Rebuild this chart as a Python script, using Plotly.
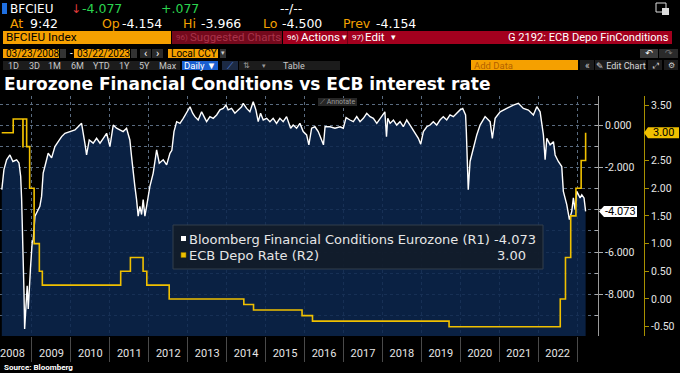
import plotly.graph_objects as go

W, H = 680, 373

# ---------------- data ----------------
bfci_dates = [
    "2008-03-24", "2008-04-13", "2008-05-08", "2008-06-08", "2008-07-06", "2008-08-10",
    "2008-09-01", "2008-09-17", "2008-09-26", "2008-10-06", "2008-10-11", "2008-10-18",
    "2008-10-24", "2008-11-05", "2008-11-17", "2008-11-27", "2008-12-06", "2008-12-19",
    "2009-01-03", "2009-01-13", "2009-01-29", "2009-02-14", "2009-03-01", "2009-03-16",
    "2009-04-01", "2009-04-16", "2009-05-02", "2009-06-02", "2009-07-04", "2009-08-04",
    "2009-09-04", "2009-10-06", "2009-11-06", "2009-12-23", "2010-02-08", "2010-03-10",
    "2010-04-11", "2010-05-12", "2010-05-28", "2010-06-22", "2010-07-29", "2010-08-30",
    "2010-10-01", "2010-11-01", "2010-12-02", "2011-01-02", "2011-02-02", "2011-03-05",
    "2011-04-05", "2011-05-06", "2011-06-07", "2011-07-08", "2011-07-24", "2011-08-08",
    "2011-08-24", "2011-09-09", "2011-09-24", "2011-10-10", "2011-10-26", "2011-11-10",
    "2011-11-26", "2011-12-12", "2012-01-12", "2012-02-12", "2012-03-15", "2012-04-09",
    "2012-05-16", "2012-06-17", "2012-07-18",
    "2012-08-05", "2012-08-25", "2012-09-19", "2012-10-20", "2012-11-20", "2012-12-21",
    "2013-01-22", "2013-02-16", "2013-03-09", "2013-04-09", "2013-05-11", "2013-06-11",
    "2013-06-27", "2013-07-28", "2013-08-28", "2013-09-29", "2013-10-30", "2013-11-30",
    "2013-12-25", "2014-01-15", "2014-02-16", "2014-03-19", "2014-04-19", "2014-05-21",
    "2014-06-05", "2014-07-07", "2014-08-07", "2014-09-07", "2014-10-02", "2014-10-24",
    "2014-11-15", "2014-12-10", "2015-01-11", "2015-02-11", "2015-03-13", "2015-04-14",
    "2015-05-15", "2015-06-15", "2015-07-17", "2015-08-24", "2015-09-17", "2015-10-19",
    "2015-11-19", "2015-12-20", "2016-01-21", "2016-02-11", "2016-03-08", "2016-04-08",
    "2016-05-09", "2016-06-27", "2016-07-12", "2016-08-27", "2016-10-13", "2016-11-29",
    "2016-12-30", "2017-01-25", "2017-03-03", "2017-04-03", "2017-05-05", "2017-06-05",
    "2017-07-06", "2017-08-07", "2017-09-07", "2017-10-08", "2017-11-09", "2017-12-10",
    "2018-01-24", "2018-02-08", "2018-02-20", "2018-03-14", "2018-04-14", "2018-05-15",
    "2018-06-15", "2018-07-16", "2018-08-17", "2018-09-17", "2018-10-18", "2018-11-12",
    "2018-12-04", "2018-12-26", "2019-01-20", "2019-02-21", "2019-03-24", "2019-04-23",
    "2019-05-25", "2019-06-25", "2019-07-26", "2019-08-27", "2019-09-27", "2019-10-28",
    "2019-11-29", "2019-12-30", "2020-01-24", "2020-02-20", "2020-02-27", "2020-03-05",
    "2020-03-16",
    "2020-04-02", "2020-05-03", "2020-06-04", "2020-07-05", "2020-08-21", "2020-10-07",
    "2020-10-28", "2020-11-23", "2021-01-09", "2021-03-12", "2021-05-13", "2021-06-29",
    "2021-08-15", "2021-10-01", "2021-11-17", "2021-12-19", "2022-01-19", "2022-02-19",
    "2022-03-07", "2022-03-23", "2022-04-23", "2022-05-24", "2022-06-09", "2022-07-09",
    "2022-08-10", "2022-08-25", "2022-09-26", "2022-10-21", "2022-11-12", "2022-11-27",
    "2022-12-13", "2022-12-29", "2023-01-29", "2023-02-14", "2023-03-07", "2023-03-22",
]
bfci_values = [
    -3.04, -2.09, -1.62, -1.39, -1.70, -1.62,
    -1.77, -2.41, -3.51, -5.08, -6.67, -7.91,
    -9.66, -8.24, -7.61, -8.71, -7.60, -6.67,
    -5.55, -5.40, -4.30, -4.13, -3.98, -3.83,
    -3.36, -2.25, -1.94, -1.31, -1.53, -0.99,
    -0.76, -0.52, -0.36, -0.28, -0.20, -0.05,
    0.11, -0.83, -1.39, -0.68, -0.83, -0.60,
    -0.83, -0.60, -0.36, -0.99, 0.03, -0.12,
    -0.20, -0.28, -0.12, -0.68, -1.47, -2.25,
    -2.88, -3.51, -4.30, -3.83, -4.22, -3.51,
    -4.30, -3.83, -2.88, -2.25, -1.15, -1.78,
    -1.62, -1.86, -1.31,
    -1.17, -0.28, 0.19, 0.11, 0.35, 0.59,
    0.90, 0.59, 0.43, 0.27, 0.66, 0.35,
    0.19, 0.43, 0.35, 0.51, 0.75, 0.82,
    0.98, 0.75, 0.82, 0.59, 0.75, 0.90,
    1.06, 0.82, 0.66, 1.14, 0.75, 0.19,
    0.59, 0.27, 0.35, 0.19, 0.35, 0.11,
    0.35, 0.19, 0.43, -0.12, 0.03, -0.12,
    0.11, -0.28, -0.44, -0.91, -0.12, -0.05,
    -0.28, -0.91, -0.05, -0.05, -0.12, -0.05,
    -0.12, 0.38, 0.27, 0.19, 0.43, 0.19,
    0.35, 0.59, 0.43, 0.35, 0.11, 0.35,
    0.66, -0.52, 0.35, 0.11, 0.27, 0.03,
    0.19, -0.05, 0.27, 0.03, -0.20, -0.44,
    -0.60, -0.88, -0.28, -0.05, 0.03, 0.19,
    0.03, 0.27, 0.43, 0.27, 0.51, 0.43,
    0.59, 0.75, 0.82, 0.51, -0.28, -1.70,
    -3.04,
    -1.70, -1.07, -0.44, 0.03, 0.43, 0.19,
    -0.60, 0.35, 0.66, 0.82, 0.98, 1.06,
    0.82, 0.74, 0.51, 0.90, 0.66, -0.44,
    -1.62, -0.60, -0.91, -0.76, -1.39, -1.70,
    -1.94, -3.12, -3.75, -4.46, -4.07, -3.43,
    -3.99, -3.12, -3.43, -3.28, -3.43, -4.073,
]

ecb_dates = [
    "2008-03-23", "2008-07-09", "2008-10-08", "2008-10-09", "2008-11-12", "2008-12-10",
    "2009-01-21", "2009-03-11", "2009-04-08", "2011-04-13", "2011-07-13", "2011-11-09",
    "2011-12-14", "2012-07-11", "2014-06-11", "2014-09-10", "2015-12-09", "2016-03-16",
    "2019-09-18", "2022-07-27", "2022-09-14", "2022-11-02", "2022-12-21", "2023-02-08",
    "2023-03-22",
]
ecb_rates = [
    3.00, 3.25, 2.75, 3.25, 2.75, 2.00,
    1.00, 0.50, 0.25, 0.50, 0.75, 0.50,
    0.25, 0.00, -0.10, -0.20, -0.30, -0.40,
    -0.50, 0.00, 0.75, 1.50, 2.00, 2.50,
    3.00,
]

# tick labels (the ones sitting under the last-value tags are hidden by the tags)
r1_tickvals = [0, -2, -4, -6, -8]
r1_ticktext = ["0.000", "-2.000", "", "-6.000", "-8.000"]
r2_tickvals = [3.5, 3.0, 2.5, 2.0, 1.5, 1.0, 0.5, 0.0, -0.5]
r2_ticktext = ["3.50", "", "2.50", "2.00", "1.50", "1.00", "0.50", "0.00", "-0.50"]

bfci_name = "Bloomberg Financial Conditions Eurozone (R1)"
ecb_name = "ECB Depo Rate (R2)"
bfci_last = bfci_values[-1]
ecb_last = ecb_rates[-1]

R1_RANGE = [-9.99, 1.41]
R2_RANGE = [-0.668, 3.664]
X_RANGE = ["2008-03-07", "2023-07-16"]

PLOT_TOP, PLOT_BOT, PLOT_RIGHT = 96, 336, 598

YELLOW = "#f0c000"
ORANGE = "#f5a000"
TXT = "#e6e6e6"
FONT = "Roboto"
DV = "DejaVu Sans"


def X(p):
    return p / W


def Y(p):
    return 1 - p / H


shapes = []
annotations = []


def rect(x0, y0, x1, y1, fill, line=None, lw=1):
    shapes.append(dict(type="rect", xref="paper", yref="paper",
                       x0=X(x0), x1=X(x1), y0=Y(y1), y1=Y(y0),
                       fillcolor=fill,
                       line=dict(color=line if line else fill, width=lw if line else 0),
                       layer="above"))


def txt(x, y, s, color=TXT, size=11, anchor="left", family=FONT, bold=False):
    annotations.append(dict(xref="paper", yref="paper", x=X(x), y=Y(y),
                            text=f"<b>{s}</b>" if bold else s, showarrow=False,
                            xanchor=anchor, yanchor="middle", borderpad=0,
                            font=dict(color=color, size=size, family=family)))


# ---------------- traces ----------------
fig = go.Figure()
fig.add_trace(go.Scatter(x=bfci_dates, y=[R1_RANGE[0] - 1] * len(bfci_dates),
                         mode="lines", line=dict(width=0), hoverinfo="skip",
                         showlegend=False))
fig.add_trace(go.Scatter(x=bfci_dates, y=bfci_values, mode="lines", name=bfci_name,
                         line=dict(color="white", width=1.4),
                         fill="tonexty", fillcolor="rgba(12,38,78,0.86)",
                         showlegend=False))
fig.add_trace(go.Scatter(x=ecb_dates, y=ecb_rates, mode="lines", name=ecb_name,
                         line=dict(color=YELLOW, width=1.6, shape="hv"),
                         yaxis="y2", showlegend=False))

# ---------------- header (terminal chrome) ----------------
# row 1
rect(2, 3, 7, 14, "#1f6fe0")
txt(9, 8.5, "BFCIEU", "white", 12, family=DV)
txt(70, 8.5, "↓", "#e03a3a", 12, family=DV)
txt(81, 8.5, "-4.077", "#2bd44f", 12.5, family=DV)
txt(160, 8.5, "+.077", "#2bd44f", 12.5, family=DV)
txt(279, 8.5, "--/--", "white", 12.5, family=DV)
rect(656, 3, 666, 12, "rgba(0,0,0,0)", "#dddddd", 1)
rect(662, 8, 669, 15, "#dddddd")
# row 2
txt(9, 23, "At", ORANGE, 12.5, family=DV)
txt(29, 23, "9:42", "white", 12.5, family=DV)
txt(101, 23, "Op", ORANGE, 12.5, family=DV)
txt(121, 23, "-4.154", "white", 12.5, family=DV)
txt(182, 23, "Hi", ORANGE, 12.5, family=DV)
txt(200, 23, "-3.966", "white", 12.5, family=DV)
txt(262, 23, "Lo", ORANGE, 12.5, family=DV)
txt(281, 23, "-4.500", "white", 12.5, family=DV)
txt(342, 23, "Prev", ORANGE, 12.5, family=DV)
txt(375, 23, "-4.154", "white", 12.5, family=DV)
# row 3
rect(3, 31, 171, 44, ORANGE)
txt(5, 37.5, "BFCIEU Index", "black", 11.8)
rect(172, 31, 282, 44, "#74091c")
txt(175, 37.5, "96)", "#a8334a", 8)
txt(189, 37.5, "Suggested Charts", "#a8334a", 11.5)
rect(283, 31, 672, 44, "#a3001e")
txt(286, 37.5, "96)", "white", 8)
txt(300, 37.5, "Actions", "white", 11.5)
txt(341, 37.5, "▾", "white", 9, family=DV)
rect(347, 31, 348, 44, "#700014")
txt(351, 37.5, "97)", "white", 8)
txt(364, 37.5, "Edit", "white", 11.5)
txt(390, 37.5, "▾", "white", 9, family=DV)
txt(670, 37.5, "G 2192: ECB Depo FinConditions", "white", 11.1, anchor="right")
# row 4
rect(3, 49, 59, 58, ORANGE)
txt(5, 53.5, "03/23/2008", "black", 10)
rect(60, 49, 66, 58, "#333333")
txt(69, 53.5, "-", "white", 10)
rect(74, 49, 130, 58, ORANGE)
txt(76, 53.5, "03/22/2023", "black", 10)
rect(131, 49, 137, 58, "#333333")
rect(140, 49, 151, 58, "#2a2a2a")
txt(145.5, 53.5, "‹", "white", 11, anchor="center")
rect(152, 49, 163, 58, "#2a2a2a")
txt(157.5, 53.5, "›", "white", 11, anchor="center")
rect(168, 49, 218, 58, ORANGE)
txt(170, 53.5, "Local CCY", "black", 10)
rect(220, 49, 226, 58, "#333333")
txt(223, 53.5, "▾", "#cccccc", 7, anchor="center", family=DV)
rect(640, 49, 658, 58, "#3a3a3a")
txt(649, 53.5, "↶", "white", 9, anchor="center", family=DV)
rect(659, 49, 678, 58, "#2a2a2a")
txt(668.5, 53.5, "↷", "#777777", 9, anchor="center", family=DV)
# row 5
rect(3, 61, 180, 70, "#1c1c1c")
for lbl, cx in [("1D", 13), ("3D", 34), ("1M", 54), ("6M", 77), ("YTD", 101),
                ("1Y", 124), ("5Y", 144), ("Max", 168)]:
    txt(cx, 65.5, lbl, "#c8c8c8", 9, anchor="center")
rect(182, 61, 218, 70, "#1a5fd0")
txt(200, 65.5, "Daily ▼", "white", 9.5, anchor="center")
rect(222, 61, 238, 70, "#1c2a44")
txt(230, 65.5, "⟋", "#5a8ae0", 9, anchor="center", family=DV)
rect(239, 61, 340, 70, "#1c1c1c")
txt(246, 65.5, "⇅", "#9a9a9a", 8, anchor="center", family=DV)
txt(264, 65.5, "▾", "#9a9a9a", 7, anchor="center", family=DV)
txt(294, 65.5, "Table", "#c8c8c8", 9, anchor="center")
rect(471, 60, 578, 70, ORANGE)
txt(473, 65.5, "Add Data", "#b36200", 9.5)
rect(580, 60, 594, 70, "#1c1c1c")
txt(587, 65.5, "«", "#cccccc", 10, anchor="center")
rect(595, 60, 646, 70, "#1c1c1c")
txt(620.5, 65.5, "✎ Edit Chart", "#d8d8d8", 9, anchor="center")
rect(648, 60, 662, 70, "#1c1c1c")
txt(655, 65.5, "⤢", "#cccccc", 8, anchor="center", family=DV)
rect(664, 60, 678, 70, "#1c1c1c")
txt(671, 65.5, "⚙", "#cccccc", 8, anchor="center", family=DV)

# title
txt(3, 84, "Eurozone Financial Conditions vs ECB interest rate", "white", 17,
    family=DV, bold=True)

# annotate button
rect(318, 98, 357, 106, "#262626")
txt(337.5, 102, "⟋ Annotate", "#9a9a9a", 7, anchor="center")

# legend box
rect(173, 225, 543, 269, "rgba(18,28,42,0.93)", "#323e4c", 1)
rect(181, 236, 186, 241, "white")
rect(181, 252.5, 186, 257.5, YELLOW, "#8a7000", 0.6)
txt(188, 239, f"{bfci_name} {bfci_last:.3f}", TXT, 13, family=DV)
txt(188, 255.5, ecb_name, TXT, 13, family=DV)
txt(496, 255.5, f"{ecb_last:.2f}", TXT, 13, family=DV)

# source
txt(3, 367, "Source: Bloomberg", "white", 8, bold=True)

# last-value tags
r1_pp = (PLOT_BOT - PLOT_TOP) / (R1_RANGE[1] - R1_RANGE[0])
r2_pp = (PLOT_BOT - PLOT_TOP) / (R2_RANGE[1] - R2_RANGE[0])
h1 = 5.5 / r1_pp
h2 = 5.5 / r2_pp
shapes.append(dict(type="path", xref="paper", yref="y",
                   path=(f"M {X(599)},{bfci_last} L {X(604)},{bfci_last + h1} "
                         f"L {X(637)},{bfci_last + h1} L {X(637)},{bfci_last - h1} "
                         f"L {X(604)},{bfci_last - h1} Z"),
                   fillcolor="white", line=dict(width=0), layer="above"))
annotations.append(dict(xref="paper", yref="y", x=X(620.5), y=bfci_last,
                        text=f"{bfci_last:.3f}", showarrow=False, xanchor="center",
                        yanchor="middle", font=dict(color="black", size=11, family=FONT)))
shapes.append(dict(type="path", xref="paper", yref="y2",
                   path=(f"M {X(644)},{ecb_last} L {X(648)},{ecb_last + h2} "
                         f"L {X(679)},{ecb_last + h2} L {X(679)},{ecb_last - h2} "
                         f"L {X(648)},{ecb_last - h2} Z"),
                   fillcolor=YELLOW, line=dict(width=0), layer="above"))
annotations.append(dict(xref="paper", yref="y2", x=X(663.5), y=ecb_last,
                        text=f"{ecb_last:.2f}", showarrow=False, xanchor="center",
                        yanchor="middle", font=dict(color="black", size=11, family=FONT)))

# ---------------- layout ----------------
GRID = "#5a6b80"
fig.update_layout(
    width=W, height=H, margin=dict(l=0, r=0, t=0, b=0),
    paper_bgcolor="black", plot_bgcolor="black",
    font=dict(family=FONT, color=TXT, size=11),
    showlegend=False,
    xaxis=dict(domain=[0, PLOT_RIGHT / W], type="date", range=X_RANGE,
               dtick="M12", tick0="2008-01-01", ticklabelmode="period",
               tickformat="%Y", ticks="outside", ticklen=25, tickcolor="#4a4a4a",
               tickwidth=1, showgrid=True, gridcolor=GRID, griddash="dot",
               gridwidth=1, zeroline=False, showline=False, automargin=False,
               ticklabelstandoff=-18, ticklabeloverflow="hide past domain",
               tickfont=dict(size=11, color=TXT)),
    yaxis=dict(domain=[Y(PLOT_BOT), Y(PLOT_TOP)], range=R1_RANGE, side="right",
               anchor="x", tickmode="array", tickvals=r1_tickvals,
               ticktext=r1_ticktext, ticks="outside", ticklen=4, tickcolor="#aaaaaa",
               showline=True, linecolor="#9a9a9a", linewidth=1,
               showgrid=True, gridcolor=GRID, griddash="dot", zeroline=False,
               automargin=False, tickfont=dict(size=10.5, color=TXT),
               minor=dict(dtick=1, tick0=0, showgrid=True, gridcolor=GRID,
                          griddash="dot", ticks="inside", ticklen=3,
                          tickcolor="#aaaaaa")),
    yaxis2=dict(overlaying="y", anchor="free", position=644 / W, side="right",
                range=R2_RANGE, tickmode="array", tickvals=r2_tickvals,
                ticktext=r2_ticktext, ticks="outside", ticklen=4,
                tickcolor="#a89000", showline=True, linecolor="#a89000",
                linewidth=1, showgrid=False, zeroline=False, automargin=False,
                tickfont=dict(size=10.5, color=TXT)),
    shapes=shapes,
    annotations=annotations,
)

fig.write_html("out.html",
               config={"displayModeBar": False},
               post_script="document.body.style.margin='0';"
                           "document.body.style.background='black';")
